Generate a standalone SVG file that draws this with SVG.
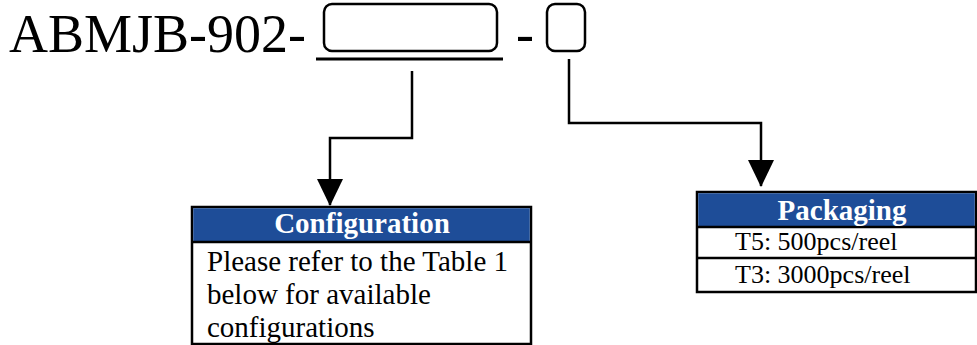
<svg xmlns="http://www.w3.org/2000/svg" width="977" height="345" viewBox="0 0 977 345">
<style>
.t{font-family:'Liberation Serif',serif;fill:#000}
.hd{font-family:'Liberation Serif',serif;font-weight:bold;fill:#fff}
.box{fill:#fff;stroke:#000;stroke-width:2.5}
.hdr{fill:#1E4D98}
.ln{fill:none;stroke:#000;stroke-width:2.5}
.conn{fill:none;stroke:#000;stroke-width:2.5}
</style>
<defs>
<marker id="arr" markerUnits="userSpaceOnUse" viewBox="0 0 27 26" refX="26" refY="13" markerWidth="27" markerHeight="26" orient="auto">
<path d="M0,0 L27,13 L0,26 z" fill="#000"/>
</marker>
</defs>
<g id="partnumber">
<text class="t" font-family="Liberation Serif, serif" x="9" y="52" font-size="54">ABMJB-902-</text>
<rect class="ln" x="324" y="4" width="173" height="47" rx="8"/>
<line x1="316" y1="59" x2="503" y2="59" stroke="#000" stroke-width="3"/>
<text class="t" font-family="Liberation Serif, serif" x="516" y="52" font-size="54">-</text>
<rect class="ln" x="547" y="4" width="38" height="47" rx="8"/>
</g>
<g id="connectors">
<path class="conn" d="M412,71 V138 H330 V205" marker-end="url(#arr)"/>
<path class="conn" d="M569,59 V123 H761 V186" marker-end="url(#arr)"/>
</g>
<g id="configuration">
<rect class="box" x="192" y="207" width="339" height="137"/>
<rect class="hdr" x="193.25" y="208.25" width="336.5" height="33"/>
<line x1="192" y1="242" x2="531" y2="242" stroke="#000" stroke-width="2.5"/>
<text class="hd" font-family="Liberation Serif, serif" x="362" y="233" text-anchor="middle" font-size="29">Configuration</text>
<text class="t" font-family="Liberation Serif, serif" x="207" y="271" font-size="29">Please refer to the Table 1</text>
<text class="t" font-family="Liberation Serif, serif" x="207" y="304" font-size="29">below for available</text>
<text class="t" font-family="Liberation Serif, serif" x="207" y="337" font-size="29">configurations</text>
</g>
<g id="packaging">
<rect class="box" x="697" y="192" width="279" height="100"/>
<rect class="hdr" x="698.25" y="193.25" width="276.5" height="33"/>
<line x1="697" y1="227" x2="976" y2="227" stroke="#000" stroke-width="2.5"/>
<line x1="697" y1="258" x2="976" y2="258" stroke="#000" stroke-width="2.5"/>
<text class="hd" font-family="Liberation Serif, serif" x="842" y="220" text-anchor="middle" font-size="29">Packaging</text>
<text class="t" font-family="Liberation Serif, serif" x="735" y="250" font-size="26">T5: 500pcs/reel</text>
<text class="t" font-family="Liberation Serif, serif" x="735" y="283" font-size="26">T3: 3000pcs/reel</text>
</g>
</svg>
